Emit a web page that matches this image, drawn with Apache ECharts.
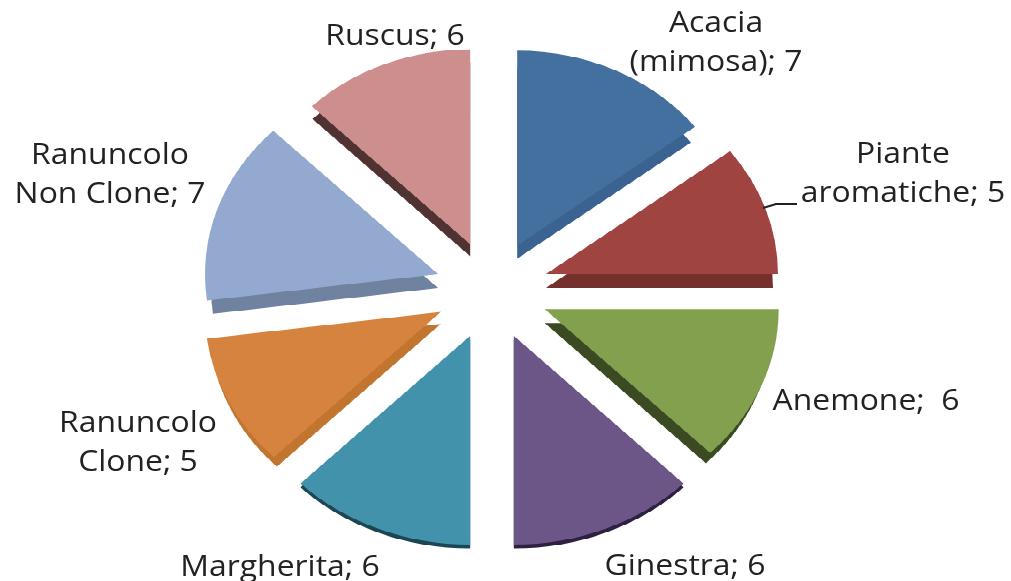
<!DOCTYPE html>
<html><head><meta charset="utf-8">
<style>
html,body{margin:0;padding:0;background:#fff;overflow:hidden;width:1011px;height:581px}
#wrap{position:relative;width:1011px;height:581px;overflow:hidden;filter:blur(0.6px)}
#pie{position:absolute;left:0;top:0;width:1011px;height:668px;transform-origin:0 0;transform:scaleY(0.87)}
#labels{position:absolute;left:0;top:0;width:1011px;height:581px}
</style>
<script src="https://cdn.jsdelivr.net/npm/echarts@6/dist/echarts.min.js"></script>
</head><body>
<div id="wrap"><div id="pie"></div><div id="labels"></div></div>
<script>
// Data
const categories = ['Acacia\n(mimosa)','Piante\naromatiche','Anemone','Ginestra','Margherita','Ranuncolo\nClone','Ranuncolo\nNon Clone','Ruscus'];
const values = [7,5,6,6,6,5,7,6];
const separators = ['; ','; ',';  ','; ','; ','; ','; ','; '];
// Styles
const topColors  = ['#44709f','#a04441','#82a04d','#6c5587','#4392ab','#d5833f','#93a9cf','#cc8f8e'];
const sideColors = ['#3a6392','#752f2c','#3b4a22','#2d2040','#1d4654','#c2752f','#6f829f','#503232'];
// Perspective layout: each slice has its own apparent radius and wall depth
const sliceRadius = [224,232,234,240,240,236,233,224];
const sliceDepth  = [13,14,14,4,4,12,14,12];
const wallInset   = [5,5,6,0,0,4,6,1];
const labelX = [716,903,866,685,280,138,110,395];
const labelY = [43,174,402,567,568,443,175,37];
const tilt = 0.87;
const centerX = 492, centerY = 290;

function slice(i, color, dy, inset){
  return {
    type:'pie', startAngle:90, clockwise:true, animation:false, silent:true,
    selectedMode:'multiple', selectedOffset:57,
    center:[centerX,(centerY+dy)/tilt], radius:[0,sliceRadius[i]-inset],
    label:{show:false}, labelLine:{show:false},
    data:values.map((v,j)=>({
      value:v, name:categories[j], selected:j===i,
      itemStyle:{color:j===i?color:'rgba(0,0,0,0)'},
      select:{itemStyle:{color:j===i?color:'rgba(0,0,0,0)'}}
    }))
  };
}
const pie = echarts.init(document.getElementById('pie'),null,{renderer:'canvas'});
pie.setOption({
  backgroundColor:'#fff',
  series:[
    ...values.map((_,i)=>slice(i,sideColors[i],sliceDepth[i],wallInset[i])),
    ...values.map((_,i)=>slice(i,topColors[i],0,0))
  ]
});
const overlay = echarts.init(document.getElementById('labels'),null,{renderer:'canvas'});
overlay.setOption({
  backgroundColor:'transparent',
  graphic:[
    ...categories.map((c,i)=>({
      type:'text', silent:true,
      x:labelX[i], y:labelY[i], scaleX:1.1,
      style:{
        text:c+separators[i]+values[i], x:0, y:0,
        align:'center', verticalAlign:'middle', lineHeight:39,
        font:'29px "Open Sans"', fill:'#222'
      }
    })),
    {type:'polyline',silent:true,shape:{points:[[763,208],[776,204],[797,204]]},style:{stroke:'#222',lineWidth:2,fill:null}}
  ]
});
</script>
</body></html>
